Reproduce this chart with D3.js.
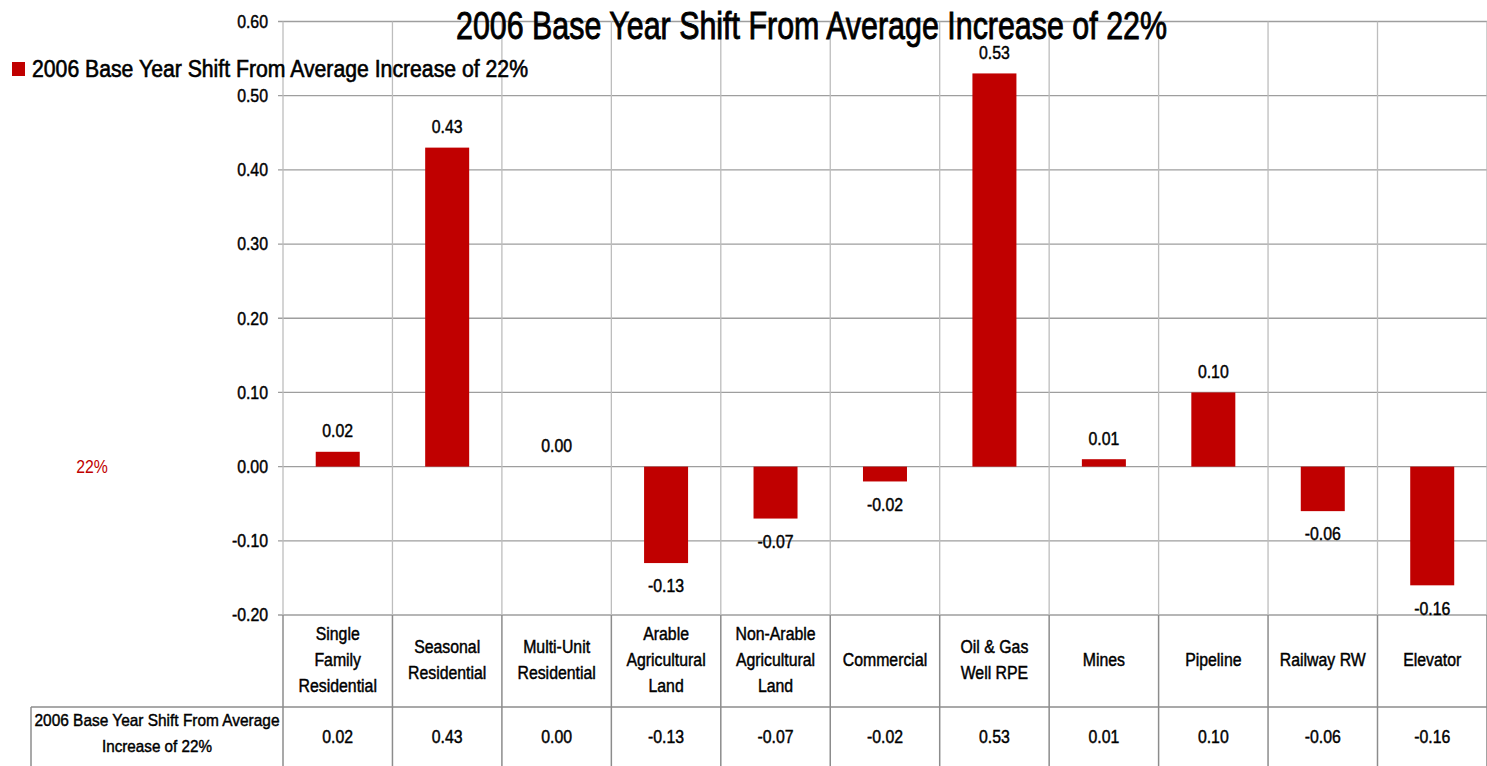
<!DOCTYPE html>
<html>
<head>
<meta charset="utf-8">
<script src="https://cdn.jsdelivr.net/npm/d3@7/dist/d3.min.js"></script>
<style>
  html, body { margin: 0; padding: 0; background: #fff; }
  svg { display: block; }
  text { font-family: "Liberation Sans", Arial, sans-serif; fill: #000; stroke: #000; stroke-width: 0.45px; }
</style>
</head>
<body>
<svg id="chart" width="1487" height="766"></svg>
<script>
// Property classes and their shift from the 22% average increase
const categories = [
  ["Single", "Family", "Residential"],
  ["Seasonal", "Residential"],
  ["Multi-Unit", "Residential"],
  ["Arable", "Agricultural", "Land"],
  ["Non-Arable", "Agricultural", "Land"],
  ["Commercial"],
  ["Oil & Gas", "Well RPE"],
  ["Mines"],
  ["Pipeline"],
  ["Railway RW"],
  ["Elevator"]
];
const shiftValues = [0.02, 0.43, 0.00, -0.13, -0.07, -0.02, 0.53, 0.01, 0.10, -0.06, -0.16];
const yTicks = [-0.20, -0.10, 0.00, 0.10, 0.20, 0.30, 0.40, 0.50, 0.60];
const seriesName = "2006 Base Year Shift From Average Increase of 22%";
const tableHeader = ["2006 Base Year Shift From Average", "Increase of 22%"];
const chartTitle = "2006 Base Year Shift From Average Increase of 22%";
const sideNote = "22%";

const barColor = "#c00000";
const svg = d3.select("#chart");

const plot = { left: 283, right: 1487, top: 21.5, bottom: 615 };
const tableTop = 707, tableBottom = 800, tableLeft = 31;

const x = d3.scaleBand()
  .domain(d3.range(categories.length))
  .range([plot.left, plot.left + 109.45 * categories.length])
  .padding(0);
const y = d3.scaleLinear().domain([-0.2, 0.6]).range([plot.bottom, plot.top]);
const fmt = v => d3.format(".2f")(v).replace("\u2212", "-");

// Narrow the glyphs of a text selection to give a condensed face
function condense(sel, factor) {
  sel.each(function() {
    const w = this.getComputedTextLength();
    d3.select(this).attr("textLength", w * factor).attr("lengthAdjust", "spacingAndGlyphs");
  });
}

// Horizontal gridlines
svg.append("g").selectAll("line").data(yTicks).join("line")
  .attr("x1", plot.left - 5).attr("x2", plot.right)
  .attr("y1", d => y(d)).attr("y2", d => y(d))
  .attr("stroke", "#9e9e9e").attr("stroke-width", 1.3);

// Vertical gridlines through plot area
const edges = d3.range(categories.length + 1).map(i => plot.left + i * x.step());
svg.append("g").selectAll("line").data(edges).join("line")
  .attr("x1", d => d).attr("x2", d => d)
  .attr("y1", plot.top).attr("y2", plot.bottom)
  .attr("stroke", "#bdbdbd").attr("stroke-width", 1.3);

// Category-label and data-table cell borders
svg.append("g").selectAll("line").data(edges).join("line")
  .attr("x1", d => d).attr("x2", d => d)
  .attr("y1", plot.bottom).attr("y2", tableBottom)
  .attr("stroke", "#8c8c8c").attr("stroke-width", 1.5);
svg.append("line")
  .attr("x1", tableLeft).attr("x2", plot.right)
  .attr("y1", tableTop).attr("y2", tableTop)
  .attr("stroke", "#8c8c8c").attr("stroke-width", 1.5);
svg.append("line")
  .attr("x1", tableLeft).attr("x2", tableLeft)
  .attr("y1", tableTop).attr("y2", tableBottom)
  .attr("stroke", "#8c8c8c").attr("stroke-width", 1.5);

const FS = 18, CF = 0.88;

// Y axis tick labels
svg.append("g").selectAll("text").data(yTicks).join("text")
  .attr("x", 268).attr("y", d => y(d)).attr("dy", "0.35em")
  .attr("text-anchor", "end").attr("font-size", FS)
  .text(d => fmt(d))
  .call(condense, CF);

// Bars
const barW = 44;
svg.append("g").selectAll("rect").data(shiftValues).join("rect")
  .attr("x", (d, i) => x(i) + x.bandwidth() / 2 - barW / 2)
  .attr("width", barW)
  .attr("y", d => y(Math.max(0, d)))
  .attr("height", d => Math.abs(y(d) - y(0)))
  .attr("fill", barColor);

// Data labels
svg.append("g").selectAll("text").data(shiftValues).join("text")
  .attr("x", (d, i) => x(i) + x.bandwidth() / 2)
  .attr("y", d => d >= 0 ? y(d) - 21 : y(d) + 23)
  .attr("dy", "0.35em").attr("text-anchor", "middle")
  .attr("font-size", FS)
  .text(d => fmt(d))
  .call(condense, CF);

// Category labels, one text per line
const catLines = categories.flatMap((lines, i) =>
  lines.map((t, j) => ({ t, i, off: j - (lines.length - 1) / 2 })));
svg.append("g").selectAll("text").data(catLines).join("text")
  .attr("x", d => x(d.i) + x.bandwidth() / 2)
  .attr("y", d => 660 + d.off * 26).attr("dy", "0.35em")
  .attr("text-anchor", "middle").attr("font-size", FS)
  .text(d => d.t)
  .call(condense, CF);

// Data table row
const hdrWidths = [245, 110];
svg.append("g").selectAll("text").data(tableHeader).join("text")
  .attr("text-anchor", "middle").attr("font-size", 17)
  .attr("x", (tableLeft + plot.left) / 2)
  .attr("y", (d, j) => 720 + j * 26).attr("dy", "0.35em")
  .attr("textLength", (d, j) => hdrWidths[j])
  .attr("lengthAdjust", "spacingAndGlyphs")
  .text(d => d);
svg.append("g").selectAll("text").data(shiftValues).join("text")
  .attr("x", (d, i) => x(i) + x.bandwidth() / 2)
  .attr("y", 737).attr("dy", "0.35em").attr("text-anchor", "middle")
  .attr("font-size", FS)
  .text(d => fmt(d))
  .call(condense, CF);

// Side note
svg.append("text")
  .attr("x", 92).attr("y", y(0)).attr("dy", "0.35em")
  .attr("text-anchor", "middle").attr("font-size", 18)
  .style("fill", barColor).style("stroke", "none")
  .text(sideNote)
  .call(condense, CF);

// Legend
svg.append("rect").attr("x", 12).attr("y", 62).attr("width", 13).attr("height", 14).attr("fill", barColor);
svg.append("text")
  .attr("x", 32).attr("y", 69).attr("dy", "0.35em")
  .attr("font-size", 23)
  .attr("textLength", 496).attr("lengthAdjust", "spacingAndGlyphs")
  .style("stroke-width", "0.6px")
  .text(seriesName);

// Title
svg.append("text")
  .attr("x", 811.5).attr("y", 39)
  .attr("text-anchor", "middle").attr("font-size", 39)
  .attr("textLength", 711).attr("lengthAdjust", "spacingAndGlyphs")
  .style("stroke-width", "0.9px")
  .text(chartTitle);
</script>
</body>
</html>
